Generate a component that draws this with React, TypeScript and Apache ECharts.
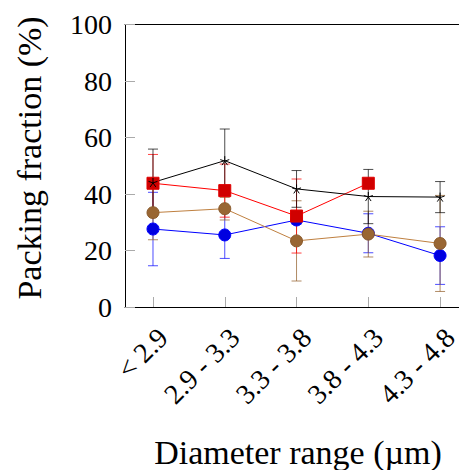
import React, { useEffect, useRef } from 'react';
import * as echarts from 'echarts';

const categories = ['< 2.9', '2.9 - 3.3', '3.3 - 3.8', '3.8 - 4.3', '4.3 - 4.8'];
const yTickValues = [0, 20, 40, 60, 80, 100];

const blueMean = [27.6, 25.5, 30.8, 26.1, 18.2];
const blueErr = [13.0, 8.3, 1.5, 6.9, 10.2];
const brownMean = [33.4, 34.8, 23.4, 25.8, 22.5];
const brownErr = [9.6, 4.0, 14.2, 8.1, 17.0];
const redMean = [43.8, 41.2, 32.2, 43.8, null];
const redErr = [10.2, 9.4, 13.1, 1.0, null];
const blackMean = [44.1, 51.8, 41.8, 39.1, 38.9];
const blackErr = [11.8, 11.2, 6.5, 9.6, 5.5];

const xLabel = 'Diameter range (µm)';
const yLabel = 'Packing fraction (%)';

const FONT = '"Liberation Serif", "DejaVu Serif", serif';
const STAR = 'path://M0 0L0 -1M0 0L0.951 -0.309M0 0L-0.951 -0.309M0 0L-0.588 0.809M0 0L0.588 0.809';
const CROSS = 'path://M0 0L10 10M10 0L0 10';

const X_MIN = -0.39;
const X_MAX = 4.258;

function toPoints(means: (number | null)[]) {
  return means.map((m, i) => (m == null ? [i, '-'] : [i, m]));
}

function errorSeries(means: (number | null)[], errs: (number | null)[], color: string) {
  const data: number[][] = [];
  means.forEach((m, i) => {
    const e = errs[i];
    if (m != null && e != null) data.push([i, m - e, m + e]);
  });
  return {
    type: 'custom',
    xAxisIndex: 0,
    yAxisIndex: 0,
    silent: true,
    data,
    encode: { x: 0, y: [1, 2] },
    renderItem: (_params: any, api: any) => {
      const x = api.value(0);
      const lo = api.coord([x, api.value(1)]);
      const hi = api.coord([x, api.value(2)]);
      const hw = 5;
      const style = { stroke: color, lineWidth: 1, fill: 'none' };
      return {
        type: 'group',
        children: [
          { type: 'line', shape: { x1: lo[0], y1: lo[1], x2: hi[0], y2: hi[1] }, style },
          { type: 'line', shape: { x1: lo[0] - hw, y1: lo[1], x2: lo[0] + hw, y2: lo[1] }, style },
          { type: 'line', shape: { x1: hi[0] - hw, y1: hi[1], x2: hi[0] + hw, y2: hi[1] }, style },
        ],
      };
    },
  };
}

function lineSeries(means: (number | null)[], lineColor: string, symbol: string, size: number, fill: string, border: string) {
  return {
    type: 'line',
    xAxisIndex: 0,
    yAxisIndex: 0,
    data: toPoints(means),
    connectNulls: false,
    showSymbol: true,
    symbol,
    symbolSize: size,
    lineStyle: { color: lineColor, width: 1 },
    itemStyle: { color: fill, borderColor: border, borderWidth: 1, opacity: 1 },
    emphasis: { disabled: true },
  };
}

export default function App() {
  const ref = useRef<HTMLDivElement>(null);
  useEffect(() => {
    if (!ref.current) return;
    const chart = echarts.init(ref.current, undefined, { renderer: 'svg' });
    const option: any = {
      animation: false,
      grid: { left: 125, right: 0, top: 24.5, bottom: 163, containLabel: false },
      xAxis: [
        {
          type: 'value',
          min: X_MIN,
          max: X_MAX,
          splitLine: { show: false },
          axisLine: { show: true, onZero: false, lineStyle: { color: '#000', width: 1 } },
          axisTick: {
            show: true,
            inside: true,
            length: 10,
            lineStyle: { color: '#aaa', width: 1 },
            customValues: [0, 1, 2, 3, 4],
          },
          axisLabel: {
            customValues: [0, 1, 2, 3, 4],
            formatter: (v: number) => categories[Math.round(v)] ?? '',
            rotate: 45,
            margin: 16,
            verticalAlign: 'top',
            fontFamily: FONT,
            fontSize: 28,
            color: '#000',
          },
        },
        {
          type: 'value',
          position: 'top',
          min: X_MIN,
          max: X_MAX,
          splitLine: { show: false },
          axisLine: { show: true, onZero: false, lineStyle: { color: '#000', width: 1 } },
          axisTick: { show: false },
          axisLabel: { show: false },
        },
      ],
      yAxis: {
        type: 'value',
        min: 0,
        max: 100,
        interval: 20,
        splitLine: { show: false },
        axisLine: { show: true, onZero: false, lineStyle: { color: '#000', width: 1 } },
        axisTick: { show: true, inside: true, length: 10, lineStyle: { color: '#aaa', width: 1 } },
        axisLabel: {
          customValues: yTickValues,
          margin: 13,
          fontFamily: FONT,
          fontSize: 28,
          color: '#000',
        },
      },
      graphic: [
        {
          type: 'text',
          x: 298,
          y: 452,
          style: {
            text: xLabel,
            font: `34px ${FONT}`,
            fill: '#000',
            textAlign: 'center',
            textVerticalAlign: 'middle',
          },
        },
        {
          type: 'text',
          x: 29,
          y: 158,
          rotation: Math.PI / 2,
          style: {
            text: yLabel,
            font: `34px ${FONT}`,
            fill: '#000',
            textAlign: 'center',
            textVerticalAlign: 'middle',
          },
        },
      ],
      series: [
        errorSeries(blueMean, blueErr, 'rgba(0,0,255,0.7)'),
        lineSeries(blueMean, '#0000ff', 'circle', 12, '#0000e0', '#0000ff'),
        errorSeries(brownMean, brownErr, 'rgba(150,100,50,0.75)'),
        lineSeries(brownMean, '#bf8040', 'circle', 12, '#996633', '#8a5a2b'),
        {
          type: 'scatter',
          xAxisIndex: 0,
          yAxisIndex: 0,
          data: toPoints(brownMean),
          symbol: CROSS,
          symbolSize: 8,
          itemStyle: { color: 'rgba(0,0,0,0)', borderColor: '#6e4a25', borderWidth: 1 },
          silent: true,
        },
        errorSeries(redMean, redErr, 'rgba(255,0,0,0.75)'),
        lineSeries(redMean, '#ff0000', 'rect', 12, '#d00000', '#e00000'),
        errorSeries(blackMean, blackErr, 'rgba(0,0,0,0.7)'),
        lineSeries(blackMean, '#000000', STAR, 9, 'rgba(0,0,0,0)', '#000'),
      ],
    };
    chart.setOption(option);
    return () => chart.dispose();
  }, []);
  return (
    <div
      ref={ref}
      style={{ position: 'fixed', left: 0, top: 0, width: 462, height: 470, background: '#fff' }}
    />
  );
}
